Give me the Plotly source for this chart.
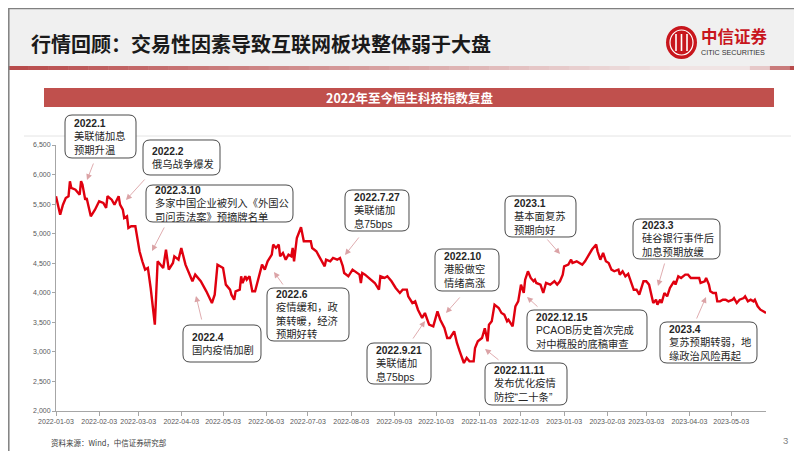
import plotly.graph_objects as go

# ---------------- data ----------------
dates = [
    "2022-01-03", "2022-01-06", "2022-01-08", "2022-01-10", "2022-01-12", "2022-01-13", "2022-01-14",
    "2022-01-17", "2022-01-20", "2022-01-21", "2022-01-22", "2022-01-24", "2022-01-25", "2022-01-27",
    "2022-01-28", "2022-01-31", "2022-02-03", "2022-02-06", "2022-02-08", "2022-02-09", "2022-02-12",
    "2022-02-14", "2022-02-17", "2022-02-18", "2022-02-20", "2022-02-21", "2022-02-23", "2022-02-24",
    "2022-02-26", "2022-03-01", "2022-03-02", "2022-03-04", "2022-03-06", "2022-03-08", "2022-03-10",
    "2022-03-12", "2022-03-15", "2022-03-17", "2022-03-21", "2022-03-23", "2022-03-25", "2022-03-28",
    "2022-03-29", "2022-04-01", "2022-04-03", "2022-04-06", "2022-04-11", "2022-04-13", "2022-04-17",
    "2022-04-21", "2022-04-25", "2022-04-27", "2022-04-29", "2022-05-01", "2022-05-03", "2022-05-05",
    "2022-05-08", "2022-05-09", "2022-05-11", "2022-05-12", "2022-05-15", "2022-05-16", "2022-05-17",
    "2022-05-19", "2022-05-20", "2022-05-22", "2022-05-24", "2022-05-26", "2022-05-29", "2022-05-31",
    "2022-06-02", "2022-06-04", "2022-06-07", "2022-06-08", "2022-06-10", "2022-06-12", "2022-06-13",
    "2022-06-15", "2022-06-17", "2022-06-19", "2022-06-21", "2022-06-22", "2022-06-23", "2022-06-25",
    "2022-06-28", "2022-06-30", "2022-07-02", "2022-07-05", "2022-07-06", "2022-07-09", "2022-07-11",
    "2022-07-13", "2022-07-15", "2022-07-16", "2022-07-19", "2022-07-21", "2022-07-24", "2022-07-26",
    "2022-07-28", "2022-07-29", "2022-08-01", "2022-08-04", "2022-08-07", "2022-08-09", "2022-08-10",
    "2022-08-11", "2022-08-13", "2022-08-17", "2022-08-20", "2022-08-23", "2022-08-24", "2022-08-27",
    "2022-08-29", "2022-09-01", "2022-09-04", "2022-09-07", "2022-09-09", "2022-09-12", "2022-09-13",
    "2022-09-16", "2022-09-18", "2022-09-20", "2022-09-23", "2022-09-25", "2022-09-28", "2022-10-01",
    "2022-10-04", "2022-10-06", "2022-10-09", "2022-10-11", "2022-10-13", "2022-10-16", "2022-10-18",
    "2022-10-20", "2022-10-23", "2022-10-25", "2022-10-27", "2022-10-30", "2022-10-31", "2022-11-02",
    "2022-11-05", "2022-11-07", "2022-11-08", "2022-11-09", "2022-11-10", "2022-11-12", "2022-11-14",
    "2022-11-17", "2022-11-19", "2022-11-21", "2022-11-23", "2022-11-24", "2022-11-27", "2022-11-29",
    "2022-12-01", "2022-12-03", "2022-12-05", "2022-12-06", "2022-12-08", "2022-12-10", "2022-12-12",
    "2022-12-13", "2022-12-14", "2022-12-17", "2022-12-19", "2022-12-21", "2022-12-24", "2022-12-27",
    "2022-12-29", "2022-12-31", "2023-01-02", "2023-01-03", "2023-01-06", "2023-01-08", "2023-01-09",
    "2023-01-12", "2023-01-14", "2023-01-16", "2023-01-18", "2023-01-20", "2023-01-23", "2023-01-26",
    "2023-01-27", "2023-01-29", "2023-01-31", "2023-02-02", "2023-02-04", "2023-02-06", "2023-02-08",
    "2023-02-11", "2023-02-12", "2023-02-14", "2023-02-16", "2023-02-18", "2023-02-20", "2023-02-22",
    "2023-02-24", "2023-02-26", "2023-03-01", "2023-03-03", "2023-03-05", "2023-03-06", "2023-03-08",
    "2023-03-10", "2023-03-11", "2023-03-13", "2023-03-14", "2023-03-16", "2023-03-18", "2023-03-20",
    "2023-03-23", "2023-03-24", "2023-03-26", "2023-03-28", "2023-03-31", "2023-04-02", "2023-04-04",
    "2023-04-07", "2023-04-10", "2023-04-11", "2023-04-14", "2023-04-15", "2023-04-17", "2023-04-18",
    "2023-04-20", "2023-04-22", "2023-04-23", "2023-04-25", "2023-04-27", "2023-04-29", "2023-05-01",
    "2023-05-04", "2023-05-05", "2023-05-07", "2023-05-09", "2023-05-12", "2023-05-13", "2023-05-15",
    "2023-05-17", "2023-05-19", "2023-05-20", "2023-05-22", "2023-05-24", "2023-05-26", "2023-05-28",
]

hstech = [
    5633, 5321, 5490, 5604, 5633, 5887, 5773,
    5745, 5660, 5887, 5830, 5575, 5604, 5406,
    5294, 5406, 5548, 5520, 5435, 5633, 5575,
    5490, 5633, 5490, 5406, 5265, 5294, 5096,
    5125, 5125, 4956, 4702, 4533, 4392, 4420,
    4081, 3460, 4533, 4420, 4731, 4392, 4504,
    4617, 4560, 4758, 4476, 4195, 4307, 4195,
    4025, 3827, 3968, 4476, 4448, 4420, 4138,
    4053, 3968, 3883, 4025, 4053, 4279, 4166,
    4279, 4222, 4279, 4025, 4025, 4307, 4476,
    4392, 4533, 4645, 4815, 4758, 4815, 4617,
    4674, 4560, 4645, 4617, 4758, 4533, 4927,
    5108, 4871, 4871, 4871, 4758, 4702, 4617,
    4533, 4448, 4560, 4533, 4589, 4560, 4589,
    4450, 4335, 4279, 4392, 4335, 4307, 4166,
    4335, 4307, 4222, 4166, 4053, 4279, 4251,
    4279, 4195, 4081, 3997, 4053, 4053, 3940,
    3827, 3855, 3714, 3574, 3658, 3460, 3432,
    3686, 3545, 3404, 3235, 3235, 3348, 3151,
    3010, 2812, 2897, 2840, 2840, 3066, 3179,
    3235, 3400, 3300, 3179, 3460, 3517, 3799,
    3743, 3658, 3630, 3517, 3545, 3432, 3771,
    3855, 4138, 3997, 4222, 4364, 4251, 4195,
    4222, 4166, 4138, 3997, 4166, 4138, 4195,
    4138, 4195, 4307, 4448, 4476, 4560, 4504,
    4533, 4504, 4476, 4533, 4617, 4731, 4815,
    4702, 4560, 4674, 4533, 4504, 4392, 4364,
    4392, 4307, 4364, 4279, 4320, 4195, 4050,
    4053, 3968, 4195, 4195, 4138, 4025, 3827,
    3883, 3799, 3883, 3827, 3997, 3940, 4081,
    4195, 4138, 4279, 4251, 4307, 4307, 4251,
    4251, 4251, 4166, 4195, 4251, 4138, 4025,
    3997, 3997, 3855, 3855, 3883, 3883, 3855,
    3883, 3911, 3827, 3883, 3911, 3940, 3855,
    3883, 3855, 3883, 3771, 3714, 3686, 3658,
]

x_tick_vals = [
    "2022-01-03", "2022-02-03", "2022-03-03", "2022-04-03", "2022-05-03", "2022-06-03",
    "2022-07-03", "2022-08-03", "2022-09-03", "2022-10-03", "2022-11-03", "2022-12-03",
    "2023-01-03", "2023-02-03", "2023-03-03", "2023-04-03", "2023-05-03",
]
y_tick_vals = [2000, 2500, 3000, 3500, 4000, 4500, 5000, 5500, 6000, 6500]

event_dates = ["2022.1", "2022.2", "2022.3.10", "2022.4", "2022.6", "2022.7.27", "2022.9.21",
               "2022.10", "2022.11.11", "2022.12.15", "2023.1", "2023.3", "2023.4"]
event_texts = [
    ["美联储加息", "预期升温"],
    ["俄乌战争爆发"],
    ["多家中国企业被列入《外国公", "司问责法案》预摘牌名单"],
    ["国内疫情加剧"],
    ["疫情缓和，政", "策转暖，经济", "预期好转"],
    ["美联储加", "息75bps"],
    ["美联储加", "息75bps"],
    ["港股做空", "情绪高涨"],
    ["发布优化疫情", "防控“二十条”"],
    ["PCAOB历史首次完成", "对中概股的底稿审查"],
    ["基本面复苏", "预期向好"],
    ["硅谷银行事件后", "加息预期放缓"],
    ["复苏预期转弱，地", "缘政治风险再起"],
]

title_text = "行情回顾：交易性因素导致互联网板块整体弱于大盘"
banner_text = "2022年至今恒生科技指数复盘"
source_text = "资料来源：Wind，中信证券研究部"

# ---------------- layout geometry (pixels) ----------------
W, H = 802, 451
L, R, T, B = 48, 758, 137, 403


def px(X):
    return (X - L) / (R - L)


def py(Y):
    return (B - Y) / (B - T)


def rrect(x0, y0, x1, y1, r):
    pts = [
        ("M", [(x0 + r, y0)]), ("L", [(x1 - r, y0)]), ("Q", [(x1, y0), (x1, y0 + r)]),
        ("L", [(x1, y1 - r)]), ("Q", [(x1, y1), (x1 - r, y1)]), ("L", [(x0 + r, y1)]),
        ("Q", [(x0, y1), (x0, y1 - r)]), ("L", [(x0, y0 + r)]), ("Q", [(x0, y0), (x0 + r, y0)]),
    ]
    s = ""
    for cmd, ps in pts:
        s += cmd + " " + " ".join(f"{px(a):.5f},{py(b):.5f}" for a, b in ps) + " "
    return s + "Z"


boxes = [
    (57, 107, 128, 150), (135, 132, 212, 167), (138, 177, 285, 214), (175, 317, 253, 354),
    (259, 280, 341, 333), (337, 182, 401, 223), (359, 335, 423, 376), (427, 241, 491, 283),
    (477, 355, 559, 397), (519, 302, 639, 343), (497, 188, 568, 229), (625, 211, 712, 251),
    (652, 314, 749, 355),
]
arrows = [  # (tailX, tailY, tipX, tipY)
    (86, 154, 79, 172), (138, 170, 118, 192), (157, 218, 144, 243), (194, 313, 188, 288),
    (276, 278, 266, 264), (352, 228, 337, 247), (404, 332, 417, 313), (453, 288, 438, 305),
    (492, 353, 477, 341), (531, 300, 519, 289), (538, 230, 552, 246), (657, 254, 650, 278),
    (688, 312, 698, 289),
]

fig = go.Figure()
fig.add_trace(go.Scatter(
    x=dates, y=hstech, mode="lines",
    line=dict(color="#e0000f", width=2.4),
    hoverinfo="skip", showlegend=False,
))

shapes = []
annotations = []

# header band
shapes.append(dict(type="rect", xref="paper", yref="paper", x0=px(0), x1=px(W), y0=py(0), y1=py(58),
                   fillcolor="#f0f0f0", line=dict(width=0), layer="below"))
# gradient stripe under header
nseg = 40
for i in range(nseg):
    xa = W * i / nseg
    xb = W * (i + 1) / nseg + 0.5
    xm = (xa + xb) / 2
    if xm < 660:
        t = xm / 660
    elif xm < 745:
        t = 1.0
    else:
        t = max(0.0, 1 - (xm - 745) / 40)
    c0 = (184, 74, 74)
    c1 = (240, 228, 228)
    col = tuple(int(c0[k] + (c1[k] - c0[k]) * t) for k in range(3))
    shapes.append(dict(type="rect", xref="paper", yref="paper", x0=px(xa), x1=px(xb),
                       y0=py(58), y1=py(62), fillcolor="rgb(%d,%d,%d)" % col,
                       line=dict(width=0), layer="below"))

# banner
shapes.append(dict(type="rect", xref="paper", yref="paper", x0=px(36), x1=px(766), y0=py(80), y1=py(99),
                   fillcolor="#c0504d", line=dict(width=0), layer="below"))
# thin divider
shapes.append(dict(type="line", xref="paper", yref="paper", x0=px(16), x1=px(783), y0=py(128), y1=py(128),
                   line=dict(color="#e4e4e4", width=1), layer="below"))
# slide border
shapes.append(dict(type="rect", xref="paper", yref="paper", x0=px(0.8), x1=px(800.8), y0=py(0.5), y1=py(449.5),
                   fillcolor="rgba(0,0,0,0)", line=dict(color="#808080", width=1.5)))

# logo circle
shapes.append(dict(type="circle", xref="paper", yref="paper", x0=px(658), x1=px(689), y0=py(18), y1=py(51),
                   fillcolor="#c8161d", line=dict(width=0)))
shapes.append(dict(type="circle", xref="paper", yref="paper", x0=px(662), x1=px(685), y0=py(22), y1=py(47),
                   fillcolor="rgba(0,0,0,0)", line=dict(color="white", width=1.2)))
for xv in (668, 673.5, 679):
    shapes.append(dict(type="line", xref="paper", yref="paper", x0=px(xv), x1=px(xv), y0=py(26), y1=py(43),
                       line=dict(color="white", width=1.6)))

# event boxes
for (x0, y0, x1, y1), d, lines in zip(boxes, event_dates, event_texts):
    shapes.append(dict(type="path", xref="paper", yref="paper", path=rrect(x0, y0, x1, y1, 7),
                       fillcolor="white", line=dict(color="#4a4a4a", width=1)))
    txt = "<b>" + d + "</b>" + "".join("<br>" + s for s in lines)
    annotations.append(dict(xref="paper", yref="paper", x=px(x0 + 7), y=py((y0 + y1) / 2),
                            xanchor="left", yanchor="middle", align="left", showarrow=False,
                            text=txt,
                            font=dict(family="Liberation Sans, Noto Sans CJK SC", size=10.3, color="#262626")))
for (tx, ty, hx, hy) in arrows:
    annotations.append(dict(xref="paper", yref="paper", x=px(hx), y=py(hy), ax=tx - hx, ay=ty - hy,
                            text="", showarrow=True, arrowhead=2, arrowsize=1.3, arrowwidth=0.9,
                            arrowcolor="#dba3a6"))

# title & texts
annotations.append(dict(xref="paper", yref="paper", x=px(21), y=py(35), xanchor="left", yanchor="middle",
                        showarrow=False, text="<b>" + title_text + "</b>",
                        font=dict(family="Noto Sans CJK SC", size=20, color="#1a1a1a")))
annotations.append(dict(xref="paper", yref="paper", x=px(691), y=py(28), xanchor="left", yanchor="middle",
                        showarrow=False, text="<b>中信证券</b>",
                        font=dict(family="Noto Sans CJK SC", size=16.5, color="#c8161d")))
annotations.append(dict(xref="paper", yref="paper", x=px(691), y=py(44.5), xanchor="left", yanchor="middle",
                        showarrow=False, text="CITIC SECURITIES",
                        font=dict(family="Liberation Sans Narrow, Liberation Sans", size=7.2, color="#333333")))
annotations.append(dict(xref="paper", yref="paper", x=px(401), y=py(89.5), xanchor="center", yanchor="middle",
                        showarrow=False, text="<b>" + banner_text + "</b>",
                        font=dict(family="Noto Sans CJK SC", size=12.5, color="white")))
annotations.append(dict(xref="paper", yref="paper", x=px(41), y=py(434.5), xanchor="left", yanchor="middle",
                        showarrow=False, text=source_text,
                        font=dict(family="Noto Sans CJK SC", size=7.5, color="#404040")))
annotations.append(dict(xref="paper", yref="paper", x=px(777), y=py(432), xanchor="center", yanchor="middle",
                        showarrow=False, text="3",
                        font=dict(family="Liberation Sans", size=9.5, color="#7f7f7f")))

fig.update_layout(
    width=W, height=H,
    margin=dict(l=L, r=W - R, t=T, b=H - B, pad=0),
    paper_bgcolor="white", plot_bgcolor="white",
    shapes=shapes, annotations=annotations,
    showlegend=False,
    xaxis=dict(
        type="date", range=["2022-01-03", "2023-05-28"],
        tickvals=x_tick_vals, ticktext=x_tick_vals,
        showgrid=False, zeroline=False,
        showline=True, linecolor="#a6a6a6", linewidth=1,
        ticks="outside", ticklen=4, tickcolor="#a6a6a6",
        tickfont=dict(family="Liberation Sans", size=7, color="#595959"),
        tickangle=0,
    ),
    yaxis=dict(
        range=[2000, 6500], tickvals=y_tick_vals, tickformat=",d",
        showgrid=False, zeroline=False,
        showline=True, linecolor="#a6a6a6", linewidth=1,
        ticks="outside", ticklen=3, tickcolor="#a6a6a6",
        tickfont=dict(family="Liberation Sans", size=7, color="#595959"),
    ),
)

fig.write_html("out.html")
